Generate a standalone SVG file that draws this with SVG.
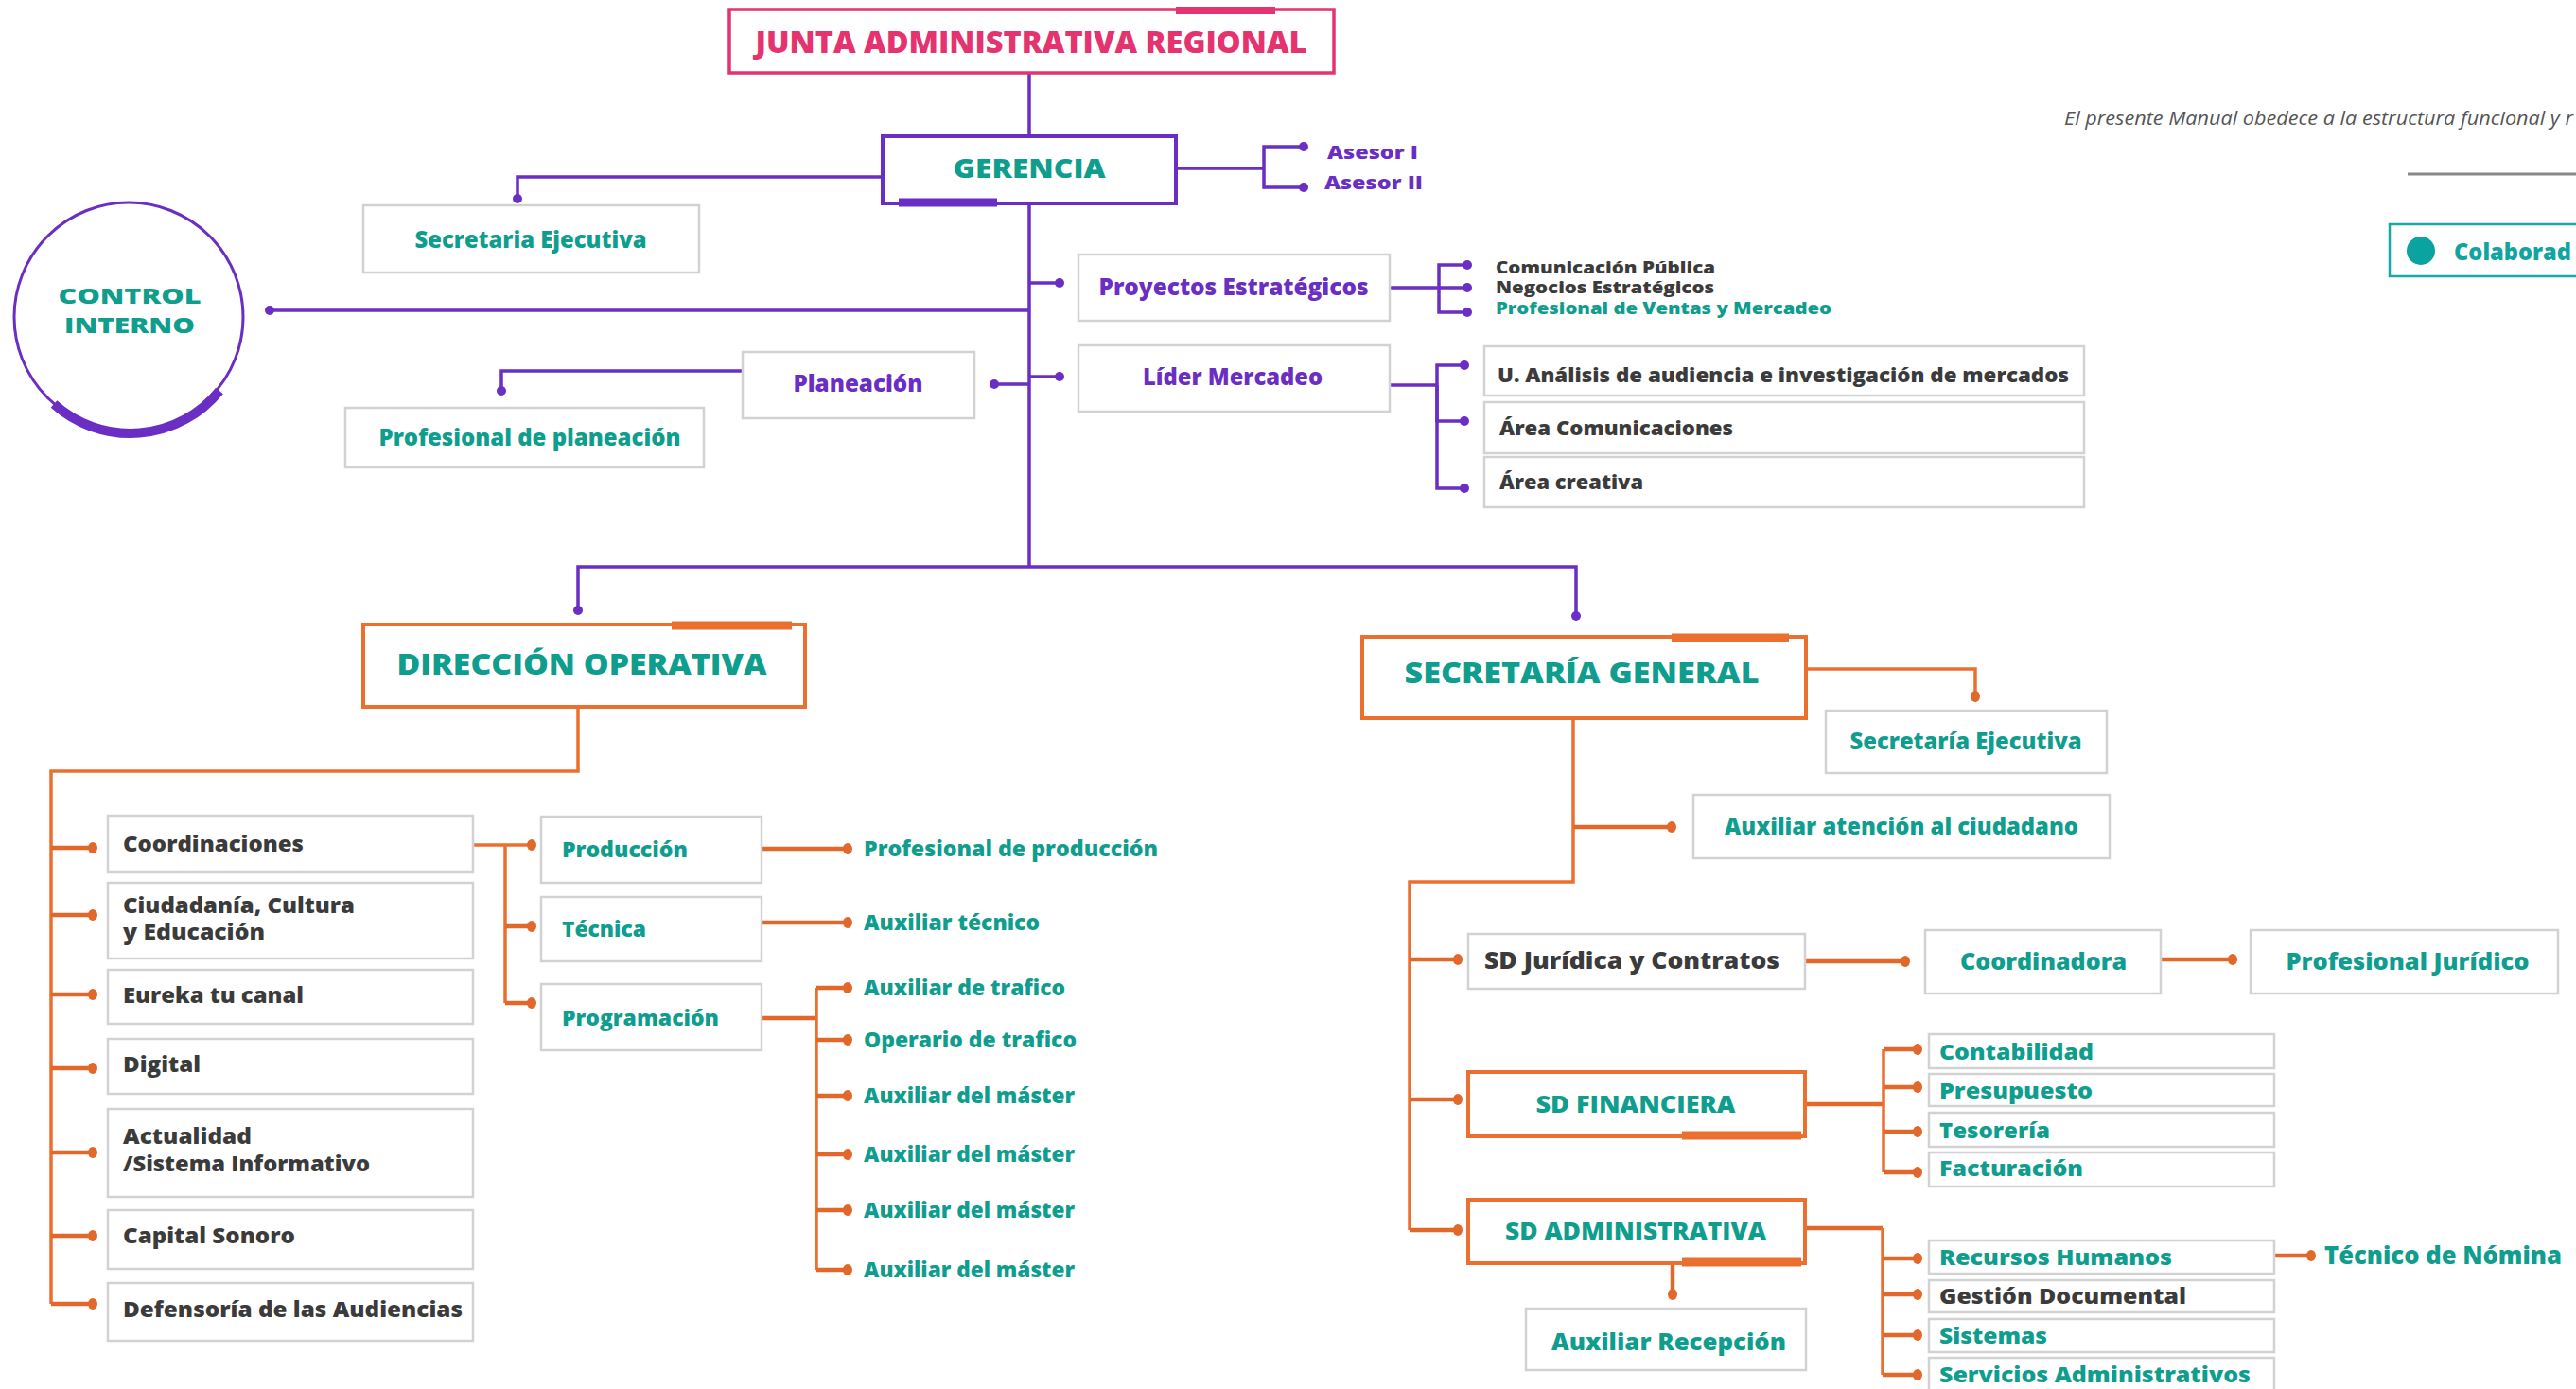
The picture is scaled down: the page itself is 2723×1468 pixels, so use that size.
<svg xmlns="http://www.w3.org/2000/svg" width="2723" height="1468" viewBox="0 0 2723 1468">
<style>
text{font-family:"Open Sans","Liberation Sans",sans-serif;font-weight:800}
.teal{fill:#0f9d8e}.purp{fill:#6a2ec4}.dark{fill:#3b3b3b}.pink{fill:#e4336f}
.gbox{fill:#fff;stroke:#d2d2d2;stroke-width:2.5}
.obox{fill:#fff;stroke:#eb6f2e;stroke-width:4}
.pbox{fill:#fff;stroke:#6a2ec4;stroke-width:4}
.pl{fill:none;stroke:#6a2ec4;stroke-width:3.5}
.ol{fill:none;stroke:#eb6f2e;stroke-width:3.5}
.ot{fill:none;stroke:#e2672a;stroke-width:4.5}
.acc-o{stroke:#eb6f2e;stroke-width:9}
.acc-p{stroke:#6a2ec4;stroke-width:9}
.c{text-anchor:middle}
</style>
<defs>
<marker id="dp" markerWidth="12" markerHeight="12" refX="6" refY="6" markerUnits="userSpaceOnUse"><circle cx="6" cy="6" r="5" fill="#6a2ec4"/></marker>
<marker id="do" markerWidth="12" markerHeight="14" refX="6" refY="7" markerUnits="userSpaceOnUse"><ellipse cx="6" cy="7" rx="5" ry="6" fill="#e2672a"/></marker>
</defs>
<rect width="2723" height="1468" fill="#fff"/>

<g id="connectors">
<path class="pl" d="M1088 77 V144"/>
<path class="pl" d="M1243 178 H1336"/>
<path class="pl" d="M1336 178 V155 H1378" marker-end="url(#dp)"/>
<path class="pl" d="M1336 178 V198 H1378" marker-end="url(#dp)"/>
<path class="pl" d="M933 187 H547 V210" marker-end="url(#dp)"/>
<path class="pl" d="M1088 215 V599"/>
<path class="pl" d="M1088 328 H285" marker-end="url(#dp)"/>
<path class="pl" d="M1088 299 H1120" marker-end="url(#dp)"/>
<path class="pl" d="M1088 398 H1120" marker-end="url(#dp)"/>
<path class="pl" d="M1088 406 H1051" marker-end="url(#dp)"/>
<path class="pl" d="M785 392 H530 V413" marker-end="url(#dp)"/>
<path class="pl" d="M1469 304 H1551" marker-end="url(#dp)"/>
<path class="pl" d="M1521 304 V280 H1551" marker-end="url(#dp)"/>
<path class="pl" d="M1521 304 V330 H1551" marker-end="url(#dp)"/>
<path class="pl" d="M1469 407 H1519"/>
<path class="pl" d="M1519 407 V386 H1548" marker-end="url(#dp)"/>
<path class="pl" d="M1519 407 V445 H1548" marker-end="url(#dp)"/>
<path class="pl" d="M1519 407 V516 H1548" marker-end="url(#dp)"/>
<path class="pl" d="M1088 599 H611 V645" marker-end="url(#dp)"/>
<path class="pl" d="M1088 599 H1666 V651" marker-end="url(#dp)"/>

<path class="ol" d="M611 747 V815 H54 V1378"/>
<path class="ot" d="M54 896 H98" marker-end="url(#do)"/>
<path class="ot" d="M54 967 H98" marker-end="url(#do)"/>
<path class="ot" d="M54 1051 H98" marker-end="url(#do)"/>
<path class="ot" d="M54 1129 H98" marker-end="url(#do)"/>
<path class="ot" d="M54 1218 H98" marker-end="url(#do)"/>
<path class="ot" d="M54 1306 H98" marker-end="url(#do)"/>
<path class="ot" d="M54 1378 H98" marker-end="url(#do)"/>
<path class="ol" d="M500 893 H562" marker-end="url(#do)"/>
<path class="ol" d="M534 893 V1060"/>
<path class="ot" d="M534 979 H562" marker-end="url(#do)"/>
<path class="ot" d="M534 1060 H562" marker-end="url(#do)"/>
<path class="ot" d="M805 897 H896" marker-end="url(#do)"/>
<path class="ot" d="M805 975 H896" marker-end="url(#do)"/>
<path class="ot" d="M805 1076 H863"/>
<path class="ol" d="M863 1044 V1342"/>
<path class="ot" d="M863 1044 H896" marker-end="url(#do)"/>
<path class="ot" d="M863 1099 H896" marker-end="url(#do)"/>
<path class="ot" d="M863 1158 H896" marker-end="url(#do)"/>
<path class="ot" d="M863 1220 H896" marker-end="url(#do)"/>
<path class="ot" d="M863 1279 H896" marker-end="url(#do)"/>
<path class="ot" d="M863 1342 H896" marker-end="url(#do)"/>

<path class="ol" d="M1909 707 H2088 V736" marker-end="url(#do)"/>
<path class="ol" d="M1663 759 V932 H1490 V1300"/>
<path class="ot" d="M1663 874 H1767" marker-end="url(#do)"/>
<path class="ot" d="M1490 1014 H1541" marker-end="url(#do)"/>
<path class="ot" d="M1490 1162 H1541" marker-end="url(#do)"/>
<path class="ot" d="M1490 1300 H1541" marker-end="url(#do)"/>
<path class="ot" d="M1908 1016 H2014" marker-end="url(#do)"/>
<path class="ot" d="M2284 1014 H2360" marker-end="url(#do)"/>
<path class="ot" d="M1908 1167 H1991"/>
<path class="ol" d="M1991 1109 V1239"/>
<path class="ot" d="M1991 1109 H2027" marker-end="url(#do)"/>
<path class="ot" d="M1991 1149 H2027" marker-end="url(#do)"/>
<path class="ot" d="M1991 1196 H2027" marker-end="url(#do)"/>
<path class="ot" d="M1991 1239 H2027" marker-end="url(#do)"/>
<path class="ot" d="M1909 1298 H1990"/>
<path class="ol" d="M1990 1298 V1453"/>
<path class="ot" d="M1990 1330 H2027" marker-end="url(#do)"/>
<path class="ot" d="M1990 1368 H2027" marker-end="url(#do)"/>
<path class="ot" d="M1990 1411 H2027" marker-end="url(#do)"/>
<path class="ot" d="M1990 1453 H2027" marker-end="url(#do)"/>
<path class="ot" d="M1768 1335 V1368" marker-end="url(#do)"/>
<path class="ot" d="M2404 1327 H2443" marker-end="url(#do)"/>
</g>

<g id="n-junta">
<rect x="771" y="10" width="639" height="67" fill="#fff" stroke="#e4336f" stroke-width="3.5"/>
<line x1="1243" y1="11" x2="1348" y2="11" stroke="#e4336f" stroke-width="8"/>
<text class="pink c" x="1090" y="56" font-size="31" textLength="583" lengthAdjust="spacingAndGlyphs">JUNTA ADMINISTRATIVA REGIONAL</text>
</g>
<g id="n-gerencia">
<rect class="pbox" x="933" y="144" width="310" height="71"/>
<line class="acc-p" x1="950" y1="214" x2="1054" y2="214"/>
<text class="teal c" x="1088" y="188" font-size="28" textLength="161" lengthAdjust="spacingAndGlyphs">GERENCIA</text>
</g>
<g id="n-asesor1"><text class="purp" x="1403" y="168" font-size="20" textLength="96" lengthAdjust="spacingAndGlyphs">Asesor I</text></g>
<g id="n-asesor2"><text class="purp" x="1400" y="200" font-size="20" textLength="104" lengthAdjust="spacingAndGlyphs">Asesor II</text></g>
<g id="n-secretaria-ejecutiva">
<rect class="gbox" x="384" y="217" width="355" height="71"/>
<text class="teal c" x="561" y="262" font-size="24" textLength="245" lengthAdjust="spacingAndGlyphs">Secretaria Ejecutiva</text>
</g>
<g id="n-control-interno">
<circle cx="136" cy="335" r="121" fill="#fff" stroke="#6a2ec4" stroke-width="3"/>
<path d="M232 413 A121 121 0 0 1 57 427" fill="none" stroke="#6a2ec4" stroke-width="10"/>
<text class="teal c" x="137" y="321" font-size="22" textLength="151" lengthAdjust="spacingAndGlyphs">CONTROL</text>
<text class="teal c" x="137" y="352" font-size="22" textLength="138" lengthAdjust="spacingAndGlyphs">INTERNO</text>
</g>
<g id="n-proyectos">
<rect class="gbox" x="1140" y="269" width="329" height="70"/>
<text class="purp c" x="1304" y="312" font-size="24" textLength="285" lengthAdjust="spacingAndGlyphs">Proyectos Estratégicos</text>
</g>
<g id="n-comunicacion"><text class="dark" x="1581" y="289" font-size="17" textLength="232" lengthAdjust="spacingAndGlyphs">Comunicación Pública</text></g>
<g id="n-negocios"><text class="dark" x="1581" y="310" font-size="17" textLength="231" lengthAdjust="spacingAndGlyphs">Negocios Estratégicos</text></g>
<g id="n-ventas"><text class="teal" x="1581" y="332" font-size="17" textLength="355" lengthAdjust="spacingAndGlyphs">Profesional de Ventas y Mercadeo</text></g>
<g id="n-lider">
<rect class="gbox" x="1140" y="365" width="329" height="70"/>
<text class="purp c" x="1303" y="407" font-size="24" textLength="190" lengthAdjust="spacingAndGlyphs">Líder Mercadeo</text>
</g>
<g id="n-analisis">
<rect class="gbox" x="1569" y="366" width="634" height="52"/>
<text class="dark" x="1583" y="404" font-size="21" textLength="604" lengthAdjust="spacingAndGlyphs">U. Análisis de audiencia e investigación de mercados</text>
</g>
<g id="n-area-com">
<rect class="gbox" x="1569" y="425" width="634" height="54"/>
<text class="dark" x="1585" y="460" font-size="21" textLength="247" lengthAdjust="spacingAndGlyphs">Área Comunicaciones</text>
</g>
<g id="n-area-cre">
<rect class="gbox" x="1569" y="483" width="634" height="53"/>
<text class="dark" x="1585" y="517" font-size="21" textLength="152" lengthAdjust="spacingAndGlyphs">Área creativa</text>
</g>
<g id="n-planeacion">
<rect class="gbox" x="785" y="372" width="245" height="70"/>
<text class="purp c" x="907" y="414" font-size="24" textLength="137" lengthAdjust="spacingAndGlyphs">Planeación</text>
</g>
<g id="n-prof-planeacion">
<rect class="gbox" x="365" y="431" width="379" height="63"/>
<text class="teal c" x="560" y="471" font-size="24" textLength="319" lengthAdjust="spacingAndGlyphs">Profesional de planeación</text>
</g>

<g id="n-direccion">
<rect class="obox" x="384" y="660" width="467" height="87"/>
<line class="acc-o" x1="710" y1="661" x2="837" y2="661"/>
<text class="teal c" x="615" y="713" font-size="30" textLength="391" lengthAdjust="spacingAndGlyphs">DIRECCIÓN OPERATIVA</text>
</g>
<g id="n-coordinaciones"><rect class="gbox" x="114" y="862" width="386" height="60"/><text class="dark" x="130" y="900" font-size="23" textLength="191" lengthAdjust="spacingAndGlyphs">Coordinaciones</text></g>
<g id="n-ciudadania"><rect class="gbox" x="114" y="933" width="386" height="80"/><text class="dark" x="130" y="965" font-size="22" textLength="245" lengthAdjust="spacingAndGlyphs">Ciudadanía, Cultura</text><text class="dark" x="130" y="993" font-size="22" textLength="150" lengthAdjust="spacingAndGlyphs">y Educación</text></g>
<g id="n-eureka"><rect class="gbox" x="114" y="1025" width="386" height="57"/><text class="dark" x="130" y="1060" font-size="23" textLength="191" lengthAdjust="spacingAndGlyphs">Eureka tu canal</text></g>
<g id="n-digital"><rect class="gbox" x="114" y="1098" width="386" height="58"/><text class="dark" x="130" y="1133" font-size="23" textLength="82" lengthAdjust="spacingAndGlyphs">Digital</text></g>
<g id="n-actualidad"><rect class="gbox" x="114" y="1172" width="386" height="93"/><text class="dark" x="130" y="1209" font-size="22" textLength="136" lengthAdjust="spacingAndGlyphs">Actualidad</text><text class="dark" x="130" y="1238" font-size="22" textLength="261" lengthAdjust="spacingAndGlyphs">/Sistema Informativo</text></g>
<g id="n-capital"><rect class="gbox" x="114" y="1279" width="386" height="62"/><text class="dark" x="130" y="1314" font-size="23" textLength="182" lengthAdjust="spacingAndGlyphs">Capital Sonoro</text></g>
<g id="n-defensoria"><rect class="gbox" x="114" y="1356" width="386" height="61"/><text class="dark" x="130" y="1392" font-size="23" textLength="359" lengthAdjust="spacingAndGlyphs">Defensoría de las Audiencias</text></g>
<g id="n-produccion"><rect class="gbox" x="572" y="863" width="233" height="70"/><text class="teal" x="594" y="906" font-size="23" textLength="133" lengthAdjust="spacingAndGlyphs">Producción</text></g>
<g id="n-tecnica"><rect class="gbox" x="572" y="948" width="233" height="68"/><text class="teal" x="594" y="990" font-size="23" textLength="89" lengthAdjust="spacingAndGlyphs">Técnica</text></g>
<g id="n-programacion"><rect class="gbox" x="572" y="1040" width="233" height="70"/><text class="teal" x="594" y="1084" font-size="23" textLength="166" lengthAdjust="spacingAndGlyphs">Programación</text></g>
<g id="n-prof-produccion"><text class="teal" x="913" y="905" font-size="23" textLength="311" lengthAdjust="spacingAndGlyphs">Profesional de producción</text></g>
<g id="n-aux-tecnico"><text class="teal" x="913" y="983" font-size="23" textLength="186" lengthAdjust="spacingAndGlyphs">Auxiliar técnico</text></g>
<g id="n-aux-trafico"><text class="teal" x="913" y="1052" font-size="23" textLength="213" lengthAdjust="spacingAndGlyphs">Auxiliar de trafico</text></g>
<g id="n-oper-trafico"><text class="teal" x="913" y="1107" font-size="23" textLength="225" lengthAdjust="spacingAndGlyphs">Operario de trafico</text></g>
<g id="n-master1"><text class="teal" x="913" y="1166" font-size="23" textLength="223" lengthAdjust="spacingAndGlyphs">Auxiliar del máster</text></g>
<g id="n-master2"><text class="teal" x="913" y="1228" font-size="23" textLength="223" lengthAdjust="spacingAndGlyphs">Auxiliar del máster</text></g>
<g id="n-master3"><text class="teal" x="913" y="1287" font-size="23" textLength="223" lengthAdjust="spacingAndGlyphs">Auxiliar del máster</text></g>
<g id="n-master4"><text class="teal" x="913" y="1350" font-size="23" textLength="223" lengthAdjust="spacingAndGlyphs">Auxiliar del máster</text></g>

<g id="n-secretaria-general">
<rect class="obox" x="1440" y="673" width="469" height="86"/>
<line class="acc-o" x1="1767" y1="674" x2="1891" y2="674"/>
<text class="teal c" x="1672" y="722" font-size="30" textLength="375" lengthAdjust="spacingAndGlyphs">SECRETARÍA GENERAL</text>
</g>
<g id="n-secretaria-ejecutiva-2"><rect class="gbox" x="1930" y="751" width="297" height="66"/><text class="teal c" x="2078" y="792" font-size="24" textLength="245" lengthAdjust="spacingAndGlyphs">Secretaría Ejecutiva</text></g>
<g id="n-aux-ciudadano"><rect class="gbox" x="1790" y="840" width="440" height="67"/><text class="teal c" x="2010" y="882" font-size="24" textLength="374" lengthAdjust="spacingAndGlyphs">Auxiliar atención al ciudadano</text></g>
<g id="n-sd-juridica"><rect class="gbox" x="1552" y="987" width="356" height="58"/><text class="dark c" x="1725" y="1024" font-size="25" textLength="312" lengthAdjust="spacingAndGlyphs">SD Jurídica y Contratos</text></g>
<g id="n-coordinadora"><rect class="gbox" x="2035" y="983" width="249" height="67"/><text class="teal c" x="2160" y="1025" font-size="25" textLength="176" lengthAdjust="spacingAndGlyphs">Coordinadora</text></g>
<g id="n-prof-juridico"><rect class="gbox" x="2379" y="983" width="325" height="67"/><text class="teal c" x="2545" y="1025" font-size="25" textLength="257" lengthAdjust="spacingAndGlyphs">Profesional Jurídico</text></g>
<g id="n-sd-financiera">
<rect class="obox" x="1552" y="1133" width="356" height="68" stroke-width="3.5"/>
<line class="acc-o" x1="1778" y1="1200" x2="1904" y2="1200"/>
<text class="teal c" x="1729" y="1176" font-size="25" textLength="211" lengthAdjust="spacingAndGlyphs">SD FINANCIERA</text>
</g>
<g id="n-contabilidad"><rect class="gbox" x="2039" y="1093" width="365" height="36"/><text class="teal" x="2050" y="1120" font-size="23" textLength="163" lengthAdjust="spacingAndGlyphs">Contabilidad</text></g>
<g id="n-presupuesto"><rect class="gbox" x="2039" y="1135" width="365" height="34"/><text class="teal" x="2050" y="1161" font-size="23" textLength="162" lengthAdjust="spacingAndGlyphs">Presupuesto</text></g>
<g id="n-tesoreria"><rect class="gbox" x="2039" y="1176" width="365" height="36"/><text class="teal" x="2050" y="1203" font-size="23" textLength="117" lengthAdjust="spacingAndGlyphs">Tesorería</text></g>
<g id="n-facturacion"><rect class="gbox" x="2039" y="1218" width="365" height="36"/><text class="teal" x="2050" y="1243" font-size="23" textLength="152" lengthAdjust="spacingAndGlyphs">Facturación</text></g>
<g id="n-sd-administrativa">
<rect class="obox" x="1552" y="1268" width="356" height="67" stroke-width="3.5"/>
<line class="acc-o" x1="1778" y1="1334" x2="1904" y2="1334"/>
<text class="teal c" x="1729" y="1310" font-size="25" textLength="276" lengthAdjust="spacingAndGlyphs">SD ADMINISTRATIVA</text>
</g>
<g id="n-aux-recepcion"><rect class="gbox" x="1613" y="1383" width="296" height="65"/><text class="teal c" x="1764" y="1427" font-size="25" textLength="248" lengthAdjust="spacingAndGlyphs">Auxiliar Recepción</text></g>
<g id="n-rrhh"><rect class="gbox" x="2039" y="1311" width="365" height="35"/><text class="teal" x="2050" y="1337" font-size="23" textLength="246" lengthAdjust="spacingAndGlyphs">Recursos Humanos</text></g>
<g id="n-gestion"><rect class="gbox" x="2039" y="1353" width="365" height="34"/><text class="dark" x="2050" y="1378" font-size="23" textLength="261" lengthAdjust="spacingAndGlyphs">Gestión Documental</text></g>
<g id="n-sistemas"><rect class="gbox" x="2039" y="1394" width="365" height="35"/><text class="teal" x="2050" y="1420" font-size="23" textLength="114" lengthAdjust="spacingAndGlyphs">Sistemas</text></g>
<g id="n-servicios"><rect class="gbox" x="2039" y="1435" width="365" height="36"/><text class="teal" x="2050" y="1461" font-size="23" textLength="329" lengthAdjust="spacingAndGlyphs">Servicios Administrativos</text></g>
<g id="n-tecnico-nomina"><text class="teal" x="2457" y="1336" font-size="27" textLength="251" lengthAdjust="spacingAndGlyphs">Técnico de Nómina</text></g>

<g id="n-nota">
<text x="2182" y="132" font-size="20" font-style="italic" style="font-weight:400" fill="#555" textLength="538" lengthAdjust="spacingAndGlyphs">El presente Manual obedece a la estructura funcional y r</text>
<line x1="2545" y1="184" x2="2723" y2="184" stroke="#8a8a8a" stroke-width="3"/>
</g>
<g id="n-colaborad">
<rect x="2526" y="237" width="220" height="55" fill="#fff" stroke="#1aa8a6" stroke-width="2.5"/>
<circle cx="2559" cy="265" r="15" fill="#0aa39f"/>
<text x="2594" y="275" font-size="25" fill="#10a5a0" textLength="124" lengthAdjust="spacingAndGlyphs">Colaborad</text>
</g>
</svg>
